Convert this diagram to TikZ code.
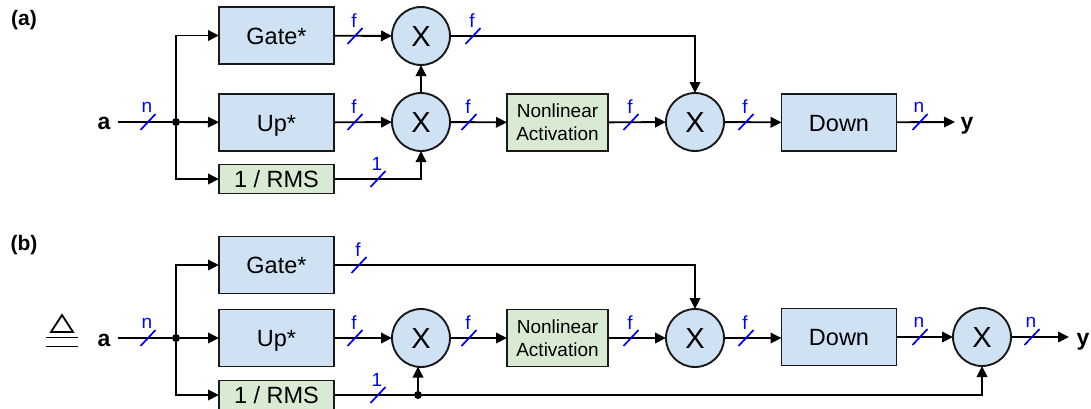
\documentclass[tikz,border=0pt]{standalone}
\usepackage{fontspec}
\setmainfont{Liberation Sans}
\usetikzlibrary{arrows.meta}
\definecolor{bluefill}{HTML}{CFE2F3}
\definecolor{greenfill}{HTML}{D9EAD3}
\definecolor{busblue}{HTML}{0000FF}
\newcommand{\busmark}[4]{% name, x, y, text
  \draw[busline] (#2-7.5,#3+8) -- (#2+7.5,#3-8);
  \node[buslabel] (#1) at (#2-1,#3-15) {#4};
}
\tikzset{
  blockbase/.style={draw=black!90,line width=1.9pt,inner sep=0pt,outer sep=0pt,anchor=center},
  bluebox/.style={blockbase,fill=bluefill,minimum width=115pt,minimum height=57pt,text height=17pt,text depth=0pt,font=\fontsize{23.5}{26}\selectfont},
  rmsbox/.style={blockbase,fill=greenfill,minimum width=115pt,minimum height=29pt,text height=17pt,text depth=0pt,font=\fontsize{23.5}{26}\selectfont},
  nlbox/.style={blockbase,fill=greenfill,minimum width=101pt,minimum height=57pt,align=center,font=\fontsize{19}{23}\selectfont},
  mulnode/.style={blockbase,circle,fill=bluefill,minimum size=58pt,text height=20pt,text depth=0pt,font=\fontsize{29}{30}\selectfont},
  conn/.style={line width=1.9pt,black,line join=miter},
  arr/.style={conn,-{Triangle[length=11pt,width=10.5pt]}},
  busline/.style={line width=1.7pt,busblue},
  buslabel/.style={text=busblue,font=\fontsize{19}{20}\selectfont,inner sep=0pt},
  termlabel/.style={font=\fontsize{23}{24}\selectfont\bfseries,inner sep=0pt},
  panel/.style={font=\fontsize{21}{22}\selectfont\bfseries,inner sep=0pt},
  junction/.style={circle,fill=black,inner sep=0pt,minimum size=8pt},
}
\begin{document}
\begin{tikzpicture}[x=1pt,y=-1pt]
\useasboundingbox (0,0) rectangle (1091,408);

% ---------- panel (a)
\node[panel] (pa) at (24,20) {(a)};
\node[termlabel] (aa) at (104,123) {a};
\node[bluebox] (ga) at (276.5,35.5) {Gate*};
\node[bluebox] (ua) at (276.5,122.5) {Up*};
\node[rmsbox] (ra) at (276.5,179) {1 / RMS};
\node[mulnode] (m1a) at (421,36) {X};
\node[mulnode] (m2a) at (421,122) {X};
\node[nlbox] (nla) at (557.5,122.5) {Nonlinear\\Activation};
\node[mulnode] (m3a) at (695,122) {X};
\node[bluebox] (da) at (839,122.5) {Down};
\node[termlabel] (ya) at (967,126) {y};
\node[junction] (ja) at (176,122) {};
\coordinate (ina) at (118,122);
\coordinate (outa) at (955,122);

\draw[conn] (ina) -- (ja);
\draw[arr] (ja) -- (ua);
\draw[arr] (ja) |- (ga);
\draw[arr] (ja) |- (ra);
\draw[arr] (ga) -- (m1a);
\draw[arr] (ua) -- (m2a);
\draw[arr] (m2a) -- (m1a);
\draw[arr] (ra) -| (m2a);
\draw[arr] (m2a) -- (nla);
\draw[arr] (nla) -- (m3a);
\draw[arr] (m3a) -- (da);
\draw[arr] (m1a) -| (m3a);
\draw[arr] (da) -- (outa);

\busmark{l1a}{148}{122}{n}
\busmark{l2a}{355}{36}{f}
\busmark{l3a}{473}{36}{f}
\busmark{l4a}{355}{122}{f}
\busmark{l5a}{469}{122}{f}
\busmark{l6a}{378}{179}{1}
\busmark{l7a}{631}{122}{f}
\busmark{l8a}{746}{122}{f}
\busmark{l9a}{920}{122}{n}

% ---------- panel (b)
\node[panel] (pb) at (24,245) {(b)};
\node[termlabel] (ab) at (104,340) {a};
\node[bluebox] (gb) at (276.5,265) {Gate*};
\node[bluebox] (ub) at (276.5,338) {Up*};
\node[rmsbox] (rb) at (276.5,395) {1 / RMS};
\node[mulnode] (m2b) at (421,338) {X};
\node[nlbox] (nlb) at (557.5,338) {Nonlinear\\Activation};
\node[mulnode] (m3b) at (695,338) {X};
\node[bluebox] (db) at (839,337) {Down};
\node[mulnode] (m4b) at (982,337) {X};
\node[termlabel] (yb) at (1083,342) {y};
\node[junction] (jb) at (176,338) {};
\node[junction] (kb) at (418,395) {};
\coordinate (inb) at (118,338);
\coordinate (outb) at (1069,337);

\draw[conn] (inb) -- (jb);
\draw[arr] (jb) -- (ub);
\draw[arr] (jb) |- (gb);
\draw[arr] (jb) |- (rb);
\draw[arr] (ub) -- (m2b);
\draw[arr] (m2b) -- (nlb);
\draw[arr] (nlb) -- (m3b);
\draw[arr] (m3b) -- (db.west |- m3b);
\draw[arr] (gb) -| (m3b);
\draw[arr] (db) -- (m4b);
\draw[arr] (m4b) -- (outb);
\draw[conn] (rb) -- (kb);
\draw[arr] (kb) -- (418,366.5);
\draw[arr] (kb) -| (m4b);

\busmark{l1b}{148}{338}{n}
\busmark{l2b}{359}{265}{f}
\busmark{l3b}{355}{338}{f}
\busmark{l4b}{469}{338}{f}
\busmark{l5b}{378}{395}{1}
\busmark{l6b}{631}{338}{f}
\busmark{l7b}{746}{338}{f}
\busmark{l8b}{920}{337}{n}
\busmark{l9b}{1032}{337}{n}

% equivalence symbol
\draw[line width=1.8pt] (62,315) -- (73,332) -- (51,332) -- cycle;
\draw[line width=1.9pt] (46,337.5) -- (78,337.5);
\draw[line width=1.9pt] (46,346.5) -- (78,346.5);
\end{tikzpicture}
\end{document}
